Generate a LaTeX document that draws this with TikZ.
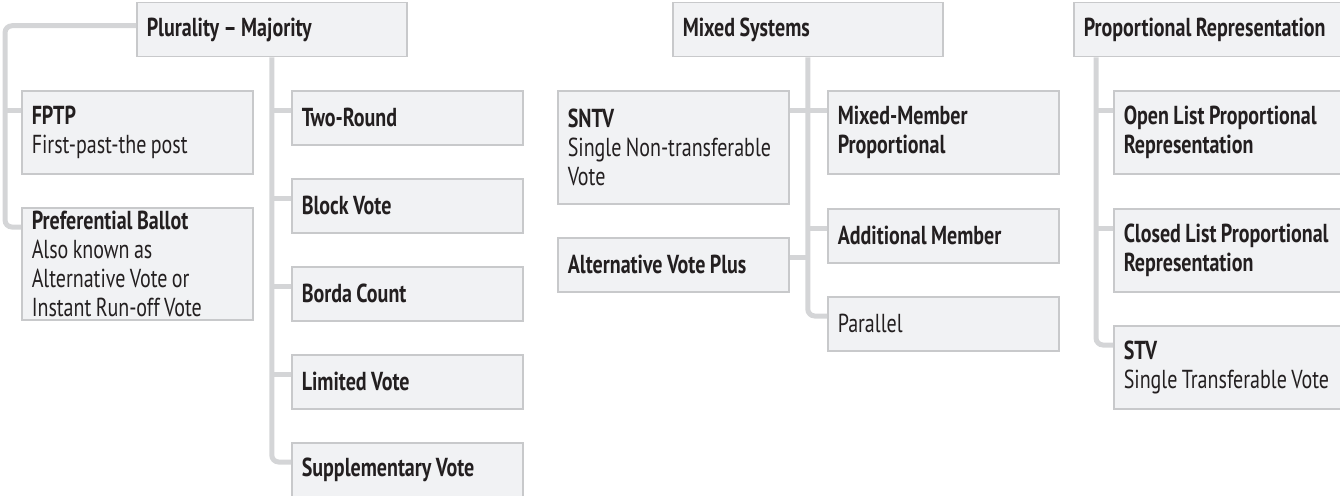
\documentclass[tikz,border=0pt]{standalone}
\usepackage{fontspec}
\setmainfont{PT Sans}[FakeStretch=0.77]
\definecolor{boxfill}{RGB}{241,242,244}
\definecolor{boxline}{RGB}{200,201,203}
\definecolor{linkgray}{RGB}{212,213,215}
\definecolor{ink}{RGB}{35,31,32}
\begin{document}
\begin{tikzpicture}[x=1pt,y=-1pt,
    box/.style={draw=boxline,fill=boxfill,line width=1.5pt,anchor=north west,
      text width=211pt,inner xsep=10pt,inner ysep=0pt,align=left,
      font=\fontsize{26}{29}\selectfont,text=ink,
      execute at begin node={\spaceskip=0.17em plus 0.05em\relax\hyphenpenalty=10000\relax}},
    boldbox/.style={box,font=\fontsize{26}{29}\selectfont\bfseries},
    head/.style={boldbox,text width=250pt,minimum height=54pt},
    link/.style={draw=linkgray,line width=5pt,rounded corners=7pt}]
    \useasboundingbox (0,0) rectangle (1340,495);
    \clip (0,0) rectangle (1340,495);

    \node[head] (pm) at (136,2) {Plurality – Majority};
    \node[box,minimum height=83pt] (fptp) at (21,90) {\textbf{FPTP}\\First-past-the post};
    \node[box,minimum height=112pt] (pref) at (21,207) {\textbf{Preferential Ballot}\\Also known as\\Alternative Vote or\\Instant Run-off Vote};
    \node[boldbox,minimum height=54pt] (tr) at (291,90) {Two-Round};
    \node[boldbox,minimum height=54pt] (bv) at (291,178) {Block Vote};
    \node[boldbox,minimum height=54pt] (bc) at (291,266) {Borda Count};
    \node[boldbox,minimum height=54pt] (lv) at (291,354) {Limited Vote};
    \node[boldbox,minimum height=54pt] (sv) at (291,442) {Supplementary Vote};

    \node[head] (ms) at (672,2) {Mixed Systems};
    \node[box,minimum height=113pt] (sntv) at (557,90) {\textbf{SNTV}\\Single Non-transferable\\Vote};
    \node[boldbox,minimum height=54pt] (avp) at (557,237) {Alternative Vote Plus};
    \node[boldbox,minimum height=83pt] (mmp) at (827,90) {Mixed-Member\\Proportional};
    \node[boldbox,minimum height=54pt] (am) at (827,208) {Additional Member};
    \node[box,minimum height=54pt] (par) at (827,296) {Parallel};

    \node[head] (pr) at (1073,2) {Proportional Representation};
    \node[boldbox,minimum height=83pt] (olpr) at (1113,90) {Open List Proportional\\Representation};
    \node[boldbox,minimum height=83pt] (clpr) at (1113,208) {Closed List Proportional\\Representation};
    \node[box,minimum height=83pt] (stv) at (1113,325) {\textbf{STV}\\Single Transferable Vote};

    \foreach \b in {fptp,pref,tr,bv,bc,lv,sv,mmp,am,par,olpr,clpr,stv}
      \coordinate (\b-in) at ([yshift=-20pt]\b.north west);
    \foreach \b in {sntv,avp}
      \coordinate (\b-in) at ([yshift=-20pt]\b.north east);
    \coordinate (pm-left) at ([xshift=-16pt]pref-in);
    \coordinate (pr-trunk) at ([xshift=23pt]pr.south west);

    \draw[link] ([yshift=4pt]pm.west) -| (pm-left) -- (pref-in);
    \draw[link] (pm-left |- fptp-in) -- (fptp-in);
    \draw[link] (pm.south) |- (sv-in);
    \foreach \b in {tr,bv,bc,lv}
      \draw[link] (pm.south |- \b-in) -- (\b-in);

    \draw[link] (ms.south) |- (par-in);
    \foreach \b in {mmp,am,sntv,avp}
      \draw[link] (ms.south |- \b-in) -- (\b-in);

    \draw[link] (pr-trunk) |- (stv-in);
    \foreach \b in {olpr,clpr}
      \draw[link] (pr-trunk |- \b-in) -- (\b-in);
\end{tikzpicture}
\end{document}
